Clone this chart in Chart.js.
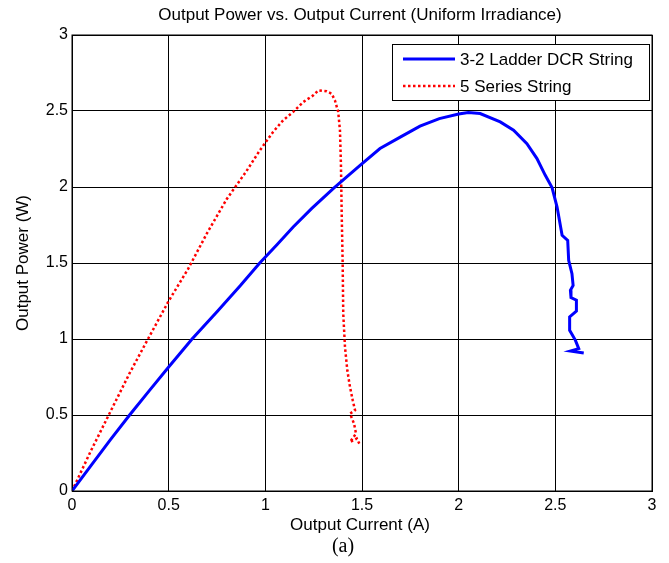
<!DOCTYPE html>
<html>
<head>
<meta charset="utf-8">
<script src="https://cdn.jsdelivr.net/npm/chart.js@4"></script>
<style>
  body { margin: 0; background: #fff; }
  #wrap { width: 669px; height: 563px; }
</style>
</head>
<body>
<div id="wrap"><canvas id="c" width="669" height="563"></canvas></div>
<script>
const titleText = 'Output Power vs. Output Current (Uniform Irradiance)';
const xLabel = 'Output Current (A)';
const yLabel = 'Output Power (W)';
const caption = '(a)';

const ladderName = '3-2 Ladder DCR String';
const ladderCurrent = [0, 0.1, 0.2, 0.298, 0.4, 0.5, 0.621, 0.75, 0.87, 0.971, 1.06, 1.144, 1.239, 1.351, 1.421, 1.49, 1.593, 1.7, 1.8, 1.9, 2.0, 2.05, 2.111, 2.215, 2.284, 2.353, 2.405, 2.448, 2.483, 2.509, 2.535, 2.564, 2.569, 2.586, 2.592, 2.578, 2.581, 2.609, 2.609, 2.574, 2.574, 2.604, 2.621, 2.578, 2.647];
const ladderPower = [0, 0.17, 0.34, 0.5, 0.66, 0.816, 1.0, 1.18, 1.35, 1.5, 1.62, 1.737, 1.858, 1.989, 2.066, 2.143, 2.253, 2.33, 2.4, 2.45, 2.48, 2.49, 2.483, 2.428, 2.373, 2.285, 2.187, 2.077, 1.996, 1.868, 1.682, 1.649, 1.518, 1.43, 1.353, 1.32, 1.272, 1.255, 1.184, 1.145, 1.057, 0.991, 0.937, 0.921, 0.908];

const seriesName = '5 Series String';
const seriesCurrent = [0, 0.1, 0.19, 0.3, 0.393, 0.5, 0.6, 0.7, 0.8, 0.9, 0.971, 1.04, 1.092, 1.144, 1.196, 1.248, 1.274, 1.317, 1.343, 1.36, 1.377, 1.386, 1.391, 1.395, 1.4, 1.403, 1.412, 1.424, 1.438, 1.452, 1.464, 1.438, 1.459, 1.469, 1.438, 1.473, 1.486];
const seriesPower = [0, 0.27, 0.5, 0.78, 1.0, 1.25, 1.46, 1.7, 1.92, 2.1, 2.24, 2.362, 2.439, 2.494, 2.559, 2.603, 2.636, 2.63, 2.614, 2.57, 2.494, 2.373, 2.154, 1.825, 1.496, 1.167, 0.947, 0.794, 0.684, 0.597, 0.531, 0.509, 0.443, 0.378, 0.322, 0.345, 0.312];

const xTicks = [0, 0.5, 1, 1.5, 2, 2.5, 3];
const yTicks = [0, 0.5, 1, 1.5, 2, 2.5, 3];

const toPoints = (xs, ys) => xs.map((x, i) => ({ x, y: ys[i] }));
const font = 'Liberation Sans, Arial, sans-serif';

const textPlugin = {
  id: 'texts',
  afterDraw(chart) {
    const { ctx, chartArea } = chart;
    const cx = (chartArea.left + chartArea.right) / 2 - 2;
    ctx.save();
    ctx.fillStyle = '#000';
    ctx.textAlign = 'center';
    ctx.textBaseline = 'middle';
    ctx.font = '17px ' + font;
    ctx.fillText(titleText, cx, 15);
    ctx.fillText(xLabel, cx, 525);
    ctx.save();
    ctx.translate(23, (chartArea.top + chartArea.bottom) / 2);
    ctx.rotate(-Math.PI / 2);
    ctx.fillText(yLabel, 0, 0);
    ctx.restore();
    ctx.font = '20px "Liberation Serif", "Times New Roman", serif';
    ctx.fillText(caption, 343, 547);

    // legend box
    const bx = 392, by = 44, bw = 257, bh = 56;
    ctx.fillStyle = '#fff';
    ctx.fillRect(bx, by, bw, bh);
    ctx.strokeStyle = '#000';
    ctx.lineWidth = 1;
    ctx.strokeRect(bx + 0.5, by + 0.5, bw, bh);
    ctx.textAlign = 'left';
    ctx.font = '17px ' + font;
    chart.data.datasets.forEach((ds, i) => {
      const ly = 59 + i * 27;
      ctx.beginPath();
      ctx.strokeStyle = ds.borderColor;
      ctx.lineWidth = ds.borderWidth;
      ctx.setLineDash(ds.borderDash || []);
      ctx.moveTo(403, ly);
      ctx.lineTo(455, ly);
      ctx.stroke();
      ctx.setLineDash([]);
      ctx.fillStyle = '#000';
      ctx.fillText(ds.label, 460, ly + 1);
    });
    ctx.restore();
  }
};

new Chart(document.getElementById('c'), {
  type: 'scatter',
  data: {
    datasets: [
      {
        label: ladderName,
        data: toPoints(ladderCurrent, ladderPower),
        showLine: true,
        borderColor: '#0000ff',
        backgroundColor: '#0000ff',
        borderWidth: 3,
        pointRadius: 0,
        tension: 0
      },
      {
        label: seriesName,
        data: toPoints(seriesCurrent, seriesPower),
        showLine: true,
        borderColor: '#ff0000',
        backgroundColor: '#ff0000',
        borderWidth: 2.5,
        borderDash: [2.5, 2.5],
        pointRadius: 0,
        tension: 0
      }
    ]
  },
  options: {
    responsive: false,
    animation: false,
    layout: { padding: { top: 35, right: 17, bottom: 0, left: 0 } },
    plugins: {
      legend: { display: false },
      title: { display: false },
      tooltip: { enabled: false }
    },
    scales: {
      x: {
        type: 'linear',
        min: 0,
        max: 3,
        afterBuildTicks: s => { s.ticks = xTicks.map(v => ({ value: v })); },
        afterFit: s => { s.height = 72; },
        grid: { color: '#000', lineWidth: 1, drawTicks: false },
        border: { color: '#000', width: 1 },
        ticks: { color: '#000', padding: 5, font: { family: font, size: 16 }, callback: v => String(v) }
      },
      y: {
        type: 'linear',
        min: 0,
        max: 3,
        afterBuildTicks: s => { s.ticks = yTicks.map(v => ({ value: v })); },
        afterFit: s => { s.width = 72; },
        grid: { color: '#000', lineWidth: 1, drawTicks: false },
        border: { color: '#000', width: 1 },
        ticks: { color: '#000', padding: 4, font: { family: font, size: 16 }, callback: v => String(v) }
      }
    }
  },
  plugins: [textPlugin, {
    id: 'frame',
    afterDatasetsDraw(chart) {
      const { ctx, chartArea: a } = chart;
      ctx.save();
      ctx.strokeStyle = '#000';
      ctx.lineWidth = 1;
      ctx.strokeRect(a.left, a.top, a.right - a.left, a.bottom - a.top);
      ctx.restore();
    }
  }]
});
</script>
</body>
</html>
